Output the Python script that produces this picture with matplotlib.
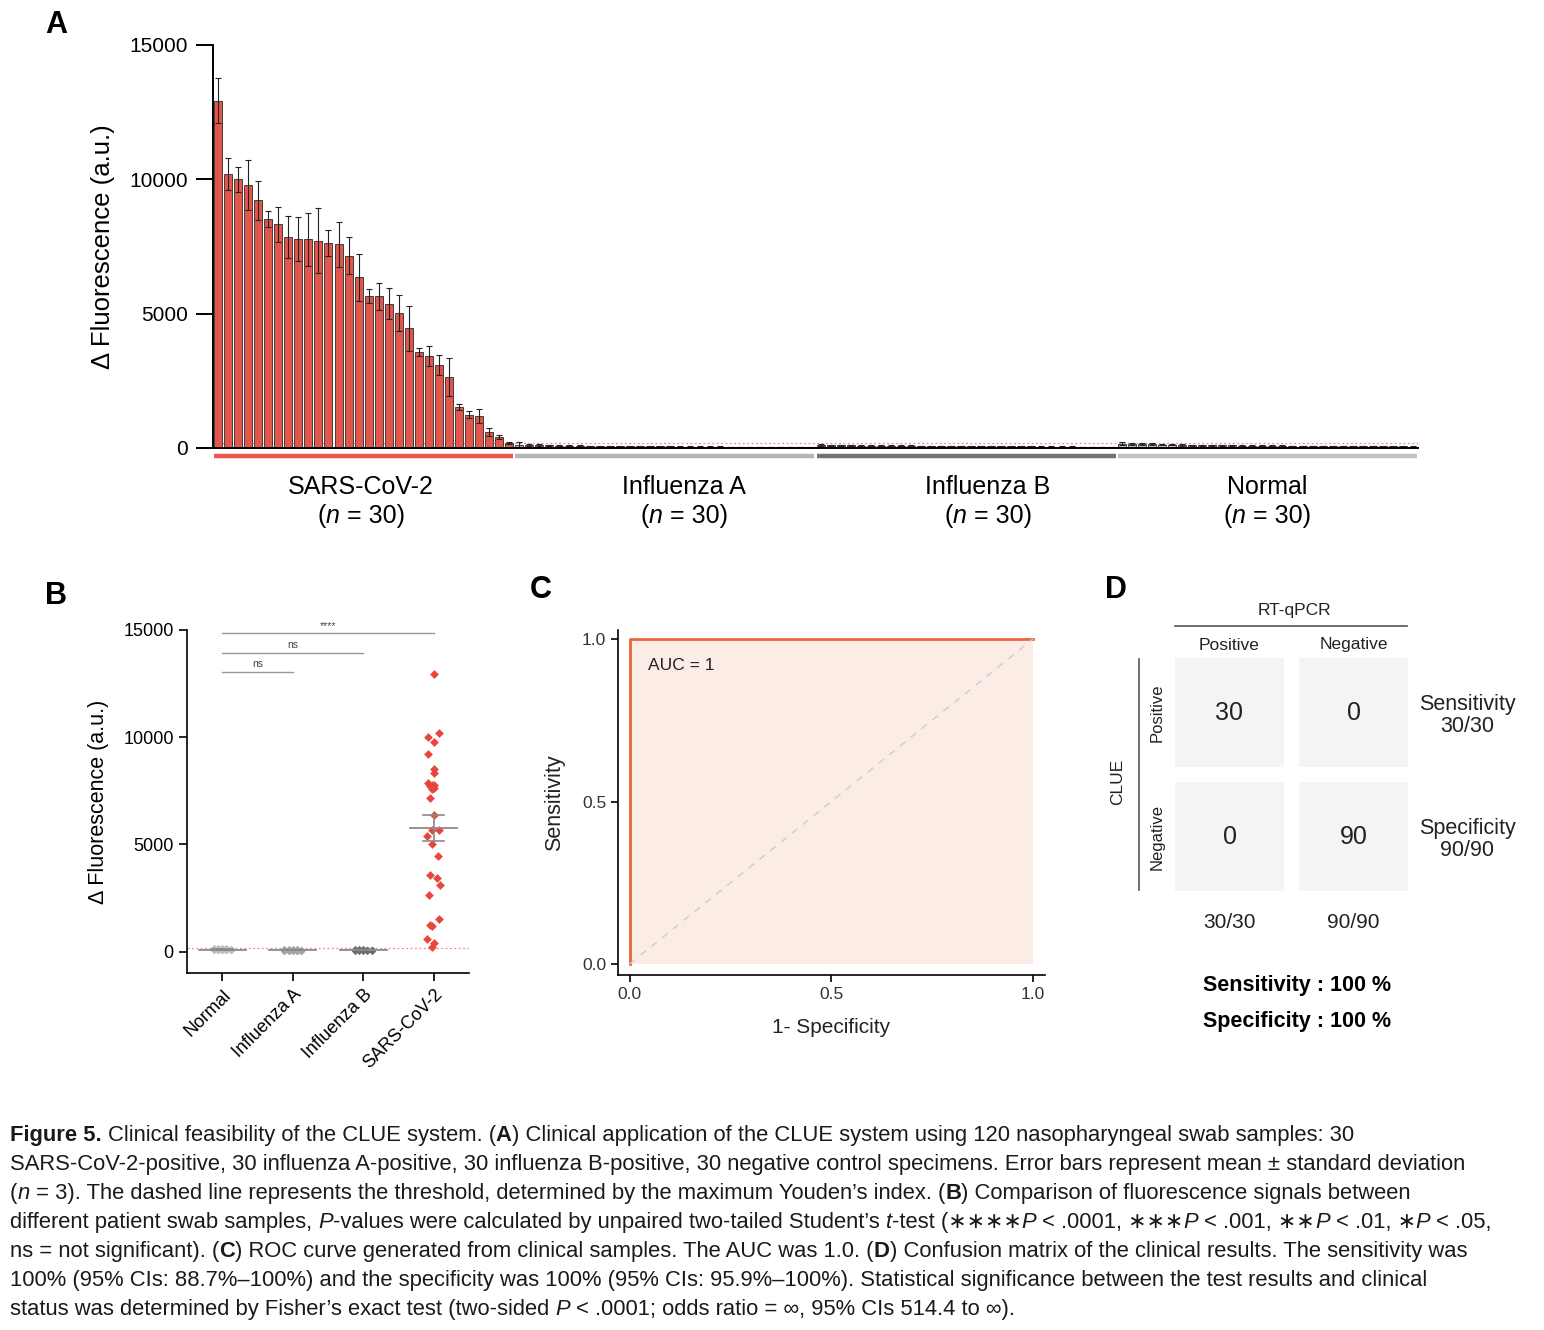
import numpy as np
import matplotlib
matplotlib.use('Agg')
import matplotlib.pyplot as plt
import matplotlib.transforms as mtransforms
from matplotlib.patches import Rectangle
from matplotlib.font_manager import FontProperties

plt.rcParams['font.family'] = ['Liberation Sans', 'DejaVu Sans']
NARROW = ['Liberation Sans Narrow', 'Liberation Sans', 'DejaVu Sans']

# ---- data ----
groups = ['SARS-CoV-2', 'Influenza A', 'Influenza B', 'Normal']
sars_mean = [12930, 10210, 10000, 9780, 9215, 8530, 8320, 7860, 7770, 7770,
             7720, 7640, 7580, 7160, 6360, 5660, 5650, 5375, 5025, 4450,
             3565, 3420, 3105, 2655, 1520, 1245, 1185, 600, 400, 190]
sars_sd = [850, 600, 470, 935, 735, 300, 660, 785, 810, 985,
           1210, 485, 835, 700, 875, 260, 500, 575, 685, 835,
           150, 375, 375, 710, 100, 125, 250, 150, 75, 30]
fluA_mean = [130, 110, 105, 100, 85, 80, 78, 75, 72, 70, 68, 65, 62, 60, 58,
             56, 54, 52, 50, 48, 46, 44, 42, 40, 38, 36, 34, 30, 26, 20]
fluA_sd = [90, 40, 35, 30, 25, 20, 20, 18, 18, 15, 15, 15, 12, 12, 12,
           12, 10, 10, 10, 10, 10, 10, 8, 8, 8, 8, 8, 6, 6, 5]
fluB_mean = [105, 100, 98, 95, 92, 90, 88, 85, 82, 80, 78, 76, 74, 72, 70,
             68, 66, 64, 62, 60, 58, 56, 54, 52, 50, 48, 46, 44, 40, 35]
fluB_sd = [30, 28, 25, 22, 20, 20, 18, 18, 15, 15, 15, 12, 12, 12, 12,
           10, 10, 10, 10, 10, 8, 8, 8, 8, 8, 8, 6, 6, 6, 5]
normal_mean = [165, 160, 158, 150, 130, 120, 115, 110, 105, 100, 98, 95, 92, 90, 88,
               85, 82, 80, 78, 76, 74, 72, 70, 68, 66, 64, 62, 60, 58, 55]
normal_sd = [40, 40, 35, 30, 28, 25, 22, 20, 20, 18, 18, 15, 15, 15, 12,
             12, 12, 10, 10, 10, 10, 10, 8, 8, 8, 8, 8, 6, 6, 6]
threshold = 180

b_order = ['Normal', 'Influenza A', 'Influenza B', 'SARS-CoV-2']
sars_jitter = [0, 0.08, -0.08, 0, -0.08, 0, 0, -0.08, -0.03, 0,
               -0.05, 0, -0.03, -0.05, 0, -0.03, 0.08, -0.1, -0.03, 0.06,
               -0.06, 0.05, 0.09, -0.07, 0.08, -0.05, -0.03, -0.1, 0, -0.03]
sig_pairs = [(0, 3, 14850, '****'), (0, 2, 13950, 'ns'), (0, 1, 13050, 'ns')]

roc_fpr = [0, 0, 1]
roc_tpr = [0, 1, 1]
auc = 1

conf_matrix = [[30, 0], [0, 90]]
conf_labels = ['Positive', 'Negative']
col_totals = ['30/30', '90/90']
row_notes = ['Sensitivity\n30/30', 'Specificity\n90/90']
summary = ['Sensitivity : 100 %', 'Specificity : 100 %']

W, H = 1544, 1330
fig = plt.figure(figsize=(W / 100, H / 100), dpi=100)

# overlay in pixel coordinates for free text
ov = fig.add_axes([0, 0, 1, 1], zorder=10)
ov.set_xlim(0, W)
ov.set_ylim(H, 0)
ov.axis('off')
ov.patch.set_alpha(0)

renderer = fig.canvas.get_renderer()
STY = {'n': {}, 'b': {'weight': 'bold'}, 'i': {'style': 'italic'}}


def text_width(s, prop):
    w1 = renderer.get_text_width_height_descent('|' + s + '|', prop, ismath=False)[0]
    w0 = renderer.get_text_width_height_descent('||', prop, ismath=False)[0]
    return w1 - w0


def runs_width(runs, size, family=NARROW):
    return sum(text_width(s, FontProperties(family=family, size=size, **STY[st])) for s, st in runs)


def draw_runs(x, y, runs, size, family=NARROW, center=False, color='black'):
    props = [FontProperties(family=family, size=size, **STY[st]) for _, st in runs]
    if center:
        x -= sum(text_width(s, p) for (s, _), p in zip(runs, props)) / 2
    for (s, st), p in zip(runs, props):
        lead = len(s) - len(s.lstrip(' '))
        xd = x + (text_width(s[:lead], p) if lead else 0)
        ov.text(xd, y, s.strip(' '), fontproperties=p, va='baseline', ha='left', color=color)
        x += text_width(s, p)


# ---- panel A ----
red = '#e2574c'
bar_fill = [red, '#b8b8b8', '#6f6f6f', '#c4c4c4']
line_col = ['#e8584c', '#b5b5b5', '#727272', '#c2c2c2']
axA = fig.add_axes([213 / W, 1 - 448 / H, 1205 / W, 403 / H])
means = [sars_mean, fluA_mean, fluB_mean, normal_mean]
sds = [sars_sd, fluA_sd, fluB_sd, normal_sd]
for g in range(4):
    xg = np.arange(30) + 30 * g
    axA.bar(xg, means[g], width=0.8, color=bar_fill[g], edgecolor='#2a2a2a', linewidth=0.6,
            yerr=sds[g], error_kw=dict(elinewidth=0.8, capsize=2, capthick=0.8, ecolor='#222222'))
    tr = mtransforms.blended_transform_factory(axA.transData, axA.transAxes)
    axA.plot([30 * g - 0.4, 30 * g + 29.4], [-0.02, -0.02], transform=tr, color=line_col[g],
             lw=3.2, clip_on=False, solid_capstyle='butt')
axA.axhline(threshold, color='#f08a8a', lw=0.9, ls=(0, (1.5, 2)), zorder=0.5)
axA.set_xlim(-0.5, 119.5)
axA.set_ylim(0, 15000)
axA.set_yticks([0, 5000, 10000, 15000])
axA.set_xticks([])
axA.tick_params(axis='y', length=12, width=1.4, labelsize=15, pad=6)
for s in ['top', 'right']:
    axA.spines[s].set_visible(False)
axA.spines['left'].set_linewidth(1.4)
axA.spines['bottom'].set_linewidth(1.4)
axA.set_ylabel('Δ Fluorescence (a.u.)', fontsize=18.5, labelpad=10)

label_x = [361, 684, 988, 1267]
for g in range(4):
    draw_runs(label_x[g], 494, [(groups[g], 'n')], 18, center=True)
    draw_runs(label_x[g], 523, [('(', 'n'), ('n', 'i'), (' = 30)', 'n')], 18, center=True)

# ---- panel B ----
axB = fig.add_axes([187 / W, 1 - 973 / H, 282 / W, 343 / H])
b_data = {'SARS-CoV-2': sars_mean, 'Influenza A': fluA_mean,
          'Influenza B': fluB_mean, 'Normal': normal_mean}
b_col = {'Normal': '#bdbdbd', 'Influenza A': '#a3a3a3', 'Influenza B': '#6c6c6c', 'SARS-CoV-2': '#e8463c'}
spread = np.tile([-0.12, -0.06, 0.0, 0.06, 0.12], 6)
for i, name in enumerate(b_order):
    vals = np.array(b_data[name], dtype=float)
    offs = np.array(sars_jitter) if name == 'SARS-CoV-2' else spread
    axB.scatter(i + offs, vals, marker='D', s=20 if name == 'SARS-CoV-2' else 14,
                color=b_col[name], linewidths=0, zorder=3)
    m = vals.mean()
    sem = vals.std(ddof=1) / np.sqrt(len(vals))
    axB.plot([i - 0.33, i + 0.33], [m, m], color='#8a8a8a', lw=1.3, zorder=4)
    axB.plot([i, i], [m - sem, m + sem], color='#8a8a8a', lw=1.2, zorder=4)
    for v in (m - sem, m + sem):
        axB.plot([i - 0.15, i + 0.15], [v, v], color='#8a8a8a', lw=1.2, zorder=4)
for a, b, y, lab in sig_pairs:
    axB.plot([a, b], [y, y], color='#9a9a9a', lw=1.0, clip_on=False)
    axB.text((a + b) / 2, y + 120, lab, ha='center', va='bottom', fontsize=7.5, color='#444444')
axB.axhline(threshold, color='#f08a8a', lw=0.9, ls=(0, (1.5, 2)), zorder=1)
axB.set_xlim(-0.5, 3.5)
axB.set_ylim(-1000, 15000)
axB.set_yticks([0, 5000, 10000, 15000])
axB.set_xticks(range(4))
axB.set_xticklabels(b_order, rotation=45, ha='right', rotation_mode='anchor', fontsize=13)
axB.tick_params(axis='both', length=6, width=1.2, labelsize=13)
for s in ['top', 'right']:
    axB.spines[s].set_visible(False)
axB.spines['left'].set_linewidth(1.2)
axB.spines['bottom'].set_linewidth(1.2)
axB.set_ylabel('Δ Fluorescence (a.u.)', fontsize=15.5, labelpad=10)

# ---- panel C ----
axC = fig.add_axes([618 / W, 1 - 975 / H, 427 / W, 345 / H])
axC.fill_between(roc_fpr, roc_tpr, 0, color='#fbece5', lw=0)
axC.plot(roc_fpr, roc_tpr, color='#e9673b', lw=2)
axC.plot([0, 1], [0, 1], color='#cdcdcd', lw=1, ls=(0, (5, 5)))
axC.text(0.045, 0.92, f'AUC = {auc}', fontsize=12.5, va='center', color='#222222')
axC.set_xlim(-0.029, 1.03)
axC.set_ylim(-0.034, 1.028)
axC.set_xticks([0, 0.5, 1])
axC.set_yticks([0, 0.5, 1])
axC.set_xticklabels(['0.0', '0.5', '1.0'])
axC.set_yticklabels(['0.0', '0.5', '1.0'])
axC.tick_params(axis='both', length=5, width=1.2, labelsize=12.5, labelcolor='#333333')
for s in ['top', 'right']:
    axC.spines[s].set_visible(False)
axC.spines['left'].set_linewidth(1.2)
axC.spines['bottom'].set_linewidth(1.2)
axC.set_xlabel('1- Specificity', fontsize=15, labelpad=12, color='#222222')
axC.set_ylabel('Sensitivity', fontsize=15.5, labelpad=12, color='#222222')

# ---- panel D ----
cell_x = [1175, 1299]
cell_y = [658, 782]
cell = 109
ov.text(1294, 610, 'RT-qPCR', ha='center', va='center', fontsize=12.5, color='#222222')
ov.plot([1175, 1407], [626, 626], color='#555555', lw=1.2)
ov.plot([1139, 1139], [659, 890], color='#555555', lw=1.2)
ov.text(1118, 782, 'CLUE', ha='center', va='center', rotation=90, fontsize=12.5, color='#222222')
for j in range(2):
    ov.text(cell_x[j] + cell / 2, 645, conf_labels[j], ha='center', va='center',
            fontsize=12.5, color='#222222')
    ov.text(1157, cell_y[j] + cell / 2, conf_labels[j], ha='center', va='center',
            rotation=90, fontsize=12, color='#222222')
    ov.text(cell_x[j] + cell / 2, 923, col_totals[j], ha='center', va='center', fontsize=15,
            color='#222222')
    ov.text(1467, cell_y[j] + cell / 2 + 3, row_notes[j], ha='center', va='center', fontsize=15.5,
            color='#222222', linespacing=1.1)
    for i in range(2):
        ov.add_patch(Rectangle((cell_x[j], cell_y[i]), cell, cell, color='#f4f4f4', lw=0))
        ov.text(cell_x[j] + cell / 2, cell_y[i] + cell / 2, str(conf_matrix[i][j]),
                ha='center', va='center', fontsize=18, color='#222222')
ov.text(1297, 985, summary[0], ha='center', va='center', fontsize=15.5, weight='bold')
ov.text(1297, 1022, summary[1], ha='center', va='center', fontsize=15.5, weight='bold')

# ---- panel letters ----
for lab, (lx, ly) in zip('ABCD', [(56, 25), (56, 596), (541, 590), (1116, 590)]):
    ov.text(lx, ly, lab, ha='center', va='center', fontsize=22, weight='bold')

# ---- caption ----
caption = [
    [('Figure 5.', 'b'), (' Clinical feasibility of the CLUE system. (', 'n'), ('A', 'b'),
     (') Clinical application of the CLUE system using 120 nasopharyngeal swab samples: 30', 'n')],
    [('SARS-CoV-2-positive, 30 influenza A-positive, 30 influenza B-positive, 30 negative control '
      'specimens. Error bars represent mean ± standard deviation', 'n')],
    [('(', 'n'), ('n', 'i'), (' = 3). The dashed line represents the threshold, determined by the '
                              'maximum Youden’s index. (', 'n'), ('B', 'b'),
     (') Comparison of fluorescence signals between', 'n')],
    [('different patient swab samples, ', 'n'), ('P', 'i'),
     ('-values were calculated by unpaired two-tailed Student’s ', 'n'), ('t', 'i'),
     ('-test (∗∗∗∗', 'n'), ('P', 'i'), (' < .0001, ∗∗∗', 'n'), ('P', 'i'), (' < .001, ∗∗', 'n'),
     ('P', 'i'), (' < .01, ∗', 'n'), ('P', 'i'), (' < .05,', 'n')],
    [('ns = not significant). (', 'n'), ('C', 'b'),
     (') ROC curve generated from clinical samples. The AUC was 1.0. (', 'n'), ('D', 'b'),
     (') Confusion matrix of the clinical results. The sensitivity was', 'n')],
    [('100% (95% CIs: 88.7%–100%) and the specificity was 100% (95% CIs: 95.9%–100%). '
      'Statistical significance between the test results and clinical', 'n')],
    [('status was determined by Fisher’s exact test (two-sided ', 'n'), ('P', 'i'),
     (' < .0001; odds ratio = ∞, 95% CIs 514.4 to ∞).', 'n')],
]
# right edges of the caption lines in the reference, used to fit the type size
caption_right = [1402, 1520, 1480, 1497, 1530, 1531, 1085]
cap_size = min(17 * (r - 10) / runs_width(runs, 17) for runs, r in zip(caption, caption_right))
for k, runs in enumerate(caption):
    draw_runs(10, 1141 + 29 * k, runs, cap_size, color='#1a1a1a')

fig.savefig('out.png', dpi=100)
